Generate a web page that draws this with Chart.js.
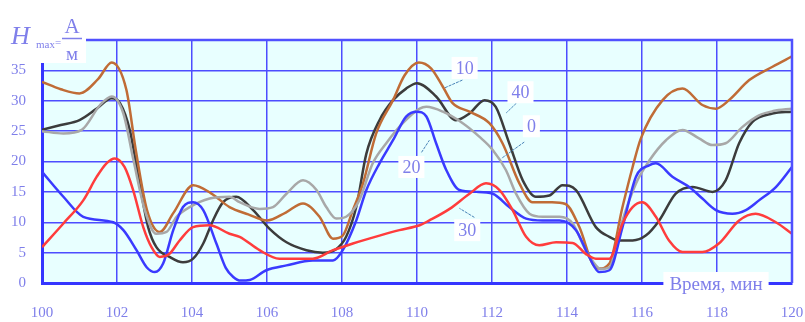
<!DOCTYPE html>
<html>
<head>
<meta charset="utf-8">
<script src="https://cdn.jsdelivr.net/npm/chart.js@4/dist/chart.umd.min.js"></script>
<style>html,body{margin:0;padding:0;background:#fff}</style>
</head>
<body>
<canvas id="chart" width="805" height="322"></canvas>
<script>
// time ticks (min) and H ticks (A/m)
var xTicks = [100, 102, 104, 106, 108, 110, 112, 114, 116, 118, 120];
var yTicks = [0, 5, 10, 15, 20, 25, 30, 35];

// series "0"
var t0 = [100, 100.57, 101.06, 101.55, 101.86, 102.17, 102.44, 102.74, 103.05, 103.32, 103.59, 103.94, 104.47, 105.0, 105.27, 105.8, 106.16, 106.52, 106.96, 107.32, 107.58, 107.85, 108.11, 108.46, 108.82, 109.18, 109.62, 110.07, 110.25, 110.69, 111.22, 111.66, 112.02, 112.37, 112.64, 113.0, 113.35, 113.8, 114.15, 114.5, 114.77, 114.9, 115.13, 115.48, 115.84, 116.2, 116.64, 117.08, 117.52, 117.88, 118.23, 118.68, 119.12, 119.5, 120];
var h0 = [25.0, 24.6, 25.2, 29.3, 30.7, 27.9, 20.2, 12, 8.1, 8.4, 10.9, 12.5, 13.9, 14.2, 13.3, 12.2, 12.5, 14.7, 16.9, 15.3, 12.5, 10.6, 10.9, 13.6, 19.7, 23, 26.3, 28.7, 29.0, 28.2, 26.3, 24.1, 21.9, 18.6, 14.7, 11.4, 10.9, 10.9, 9.8, 5.4, 2.9, 2.3, 2.6, 10.3, 16.4, 20.2, 23.5, 25.2, 23.8, 22.7, 23, 25.7, 27.6, 28.3, 28.7];

// series "10"
var t10 = [100, 100.5, 101, 101.5, 101.86, 102.25, 102.5, 102.8, 103.14, 103.5, 104.03, 104.5, 105, 105.5, 106, 106.5, 106.96, 107.4, 107.76, 108.02, 108.29, 108.56, 108.91, 109.36, 109.67, 110.05, 110.38, 110.69, 110.95, 111.4, 111.93, 112.28, 112.73, 113.08, 113.6, 113.96, 114.33, 114.68, 114.86, 115.13, 115.48, 115.75, 115.97, 116.55, 117.08, 117.61, 117.97, 118.32, 118.86, 119.48, 120];
var h10 = [33.1, 31.9, 31.2, 33.6, 36.3, 31.8, 21.9, 12, 8.4, 11.5, 16.1, 14.8, 12.5, 11.3, 10.3, 11.6, 13.1, 10.9, 7.3, 7.8, 12, 16.4, 24.6, 30.1, 34.2, 36.3, 35.3, 32.3, 29.6, 28.2, 26.3, 23, 16.4, 13.3, 13.3, 13, 9.2, 3.2, 2.4, 3.2, 12.5, 19.1, 23.8, 30.1, 32.0, 29.3, 28.7, 30.1, 33.4, 35.6, 37.3];

// series "20"
var t20 = [100, 100.57, 101.1, 101.9, 102.17, 102.52, 102.79, 103.01, 103.23, 103.5, 103.76, 104.03, 104.3, 104.65, 104.9, 105.1, 105.3, 105.54, 105.98, 106.52, 107.22, 107.76, 108.02, 108.38, 108.65, 109.0, 109.36, 109.71, 110.0, 110.25, 110.51, 110.78, 111.13, 111.58, 112.02, 112.46, 112.91, 113.35, 113.8, 114.24, 114.59, 114.86, 115.13, 115.48, 115.84, 116.2, 116.37, 116.81, 117.26, 117.61, 117.97, 118.41, 118.77, 119.12, 119.57, 120];
var h20 = [18.3, 14.2, 10.9, 10.0, 8.7, 5.4, 2.6, 1.8, 3.2, 8.7, 12.5, 13.3, 12, 6.5, 2.5, 1.0, 0.4, 0.5, 2.1, 2.9, 3.7, 3.7, 5.4, 10.3, 15.3, 19.7, 23.5, 27.4, 28.2, 27.4, 23, 18.6, 15.3, 15.0, 14.7, 12.5, 10.6, 10.3, 10.3, 8.7, 4.3, 1.8, 2.1, 9.2, 17.5, 19.4, 19.7, 17.5, 15.8, 13.9, 12, 11.4, 12, 13.6, 15.8, 19.1];

// series "30"
var t30 = [100, 100.57, 101.1, 101.46, 101.72, 101.94, 102.2, 102.43, 102.7, 102.92, 103.14, 103.4, 103.67, 104.03, 104.47, 105.0, 105.27, 105.8, 106.33, 107.22, 107.76, 108.29, 109.0, 109.53, 110.07, 110.33, 110.87, 111.4, 111.84, 112.2, 112.55, 112.91, 113.26, 113.71, 114.15, 114.5, 114.77, 115.13, 115.48, 115.75, 116.01, 116.37, 116.72, 117.08, 117.61, 118.05, 118.59, 119.03, 119.57, 120];
var h30 = [5.9, 9.8, 13.6, 17.5, 19.7, 20.5, 19.1, 15.3, 9.2, 5.9, 4.3, 4.8, 7.0, 9.2, 9.5, 8.1, 7.6, 5.4, 4.0, 4.0, 5.4, 6.5, 7.8, 8.7, 9.5, 10.3, 12.2, 14.7, 16.4, 15.3, 12, 7.6, 6.2, 6.7, 6.6, 4.8, 4.0, 4.0, 9.8, 12.5, 13.3, 10.9, 7.0, 5.1, 5.1, 6.5, 10.3, 11.4, 10.0, 8.1];

// series "40"
var t40 = [100, 100.5, 101, 101.46, 101.86, 102.08, 102.34, 102.6, 102.83, 103.05, 103.4, 103.76, 104.03, 104.3, 104.56, 104.83, 105.18, 105.63, 106.07, 106.52, 107.05, 107.49, 107.85, 108.11, 108.38, 108.65, 109.0, 109.36, 109.71, 110.0, 110.51, 111.04, 111.4, 111.8, 112.1, 112.46, 112.82, 113.17, 113.53, 113.88, 114.24, 114.77, 115.13, 115.39, 115.75, 116.1, 116.46, 116.9, 117.35, 117.88, 118.23, 118.59, 118.94, 119.48, 120];
var h40 = [25.2, 26.0, 26.8, 28.7, 30.4, 29.6, 25.2, 16.4, 9.2, 5.9, 4.3, 3.4, 4.0, 6.5, 10.3, 13.3, 14.2, 12, 8.9, 6.7, 5.4, 5.0, 5.6, 7.6, 12.5, 21.3, 26.8, 30.1, 32.0, 32.9, 30.7, 26.8, 27.9, 30.1, 29.0, 23, 16.9, 14.2, 14.4, 16.1, 15.3, 9.2, 7.6, 7.0, 7.0, 7.8, 10.3, 14.7, 15.8, 15.0, 16.9, 23, 26.5, 27.9, 28.2];

// curve labels: [text, label t, label h, leader from t/h, leader to t/h]
var curveLabels = [
  ['10', 111.27, 35.4, 111.21, 33.4, 110.73, 32.1],
  ['40', 112.76, 31.4, 112.65, 29.6, 112.38, 28.0],
  ['0', 113.05, 25.8, 112.86, 23.2, 112.25, 20.5],
  ['20', 109.85, 19.1, 110.12, 21.5, 110.33, 23.5],
  ['30', 111.34, 8.7, 111.53, 10.8, 111.13, 12.3]
];

var textColor = '#7f7fea';
var serif = '"Liberation Serif", "DejaVu Serif", serif';

function pts(t, h) {
  return t.map(function(x, i) { return {x: x, y: h[i]}; });
}

function line(label, t, h, color) {
  return {
    label: label,
    data: pts(t, h),
    borderColor: color,
    borderWidth: 2.5,
    pointRadius: 0,
    fill: false,
    cubicInterpolationMode: 'monotone'
  };
}

var bgPlugin = {
  id: 'bg',
  beforeDraw: function(c) {
    var a = c.chartArea, ctx = c.ctx;
    ctx.save();
    ctx.fillStyle = '#e8ffff';
    ctx.fillRect(a.left, a.top, a.right - a.left, a.bottom - a.top);
    ctx.restore();
  }
};

function whiteText(ctx, txt, cx, cy, font, padX, h) {
  ctx.font = font;
  var w = ctx.measureText(txt).width + padX * 2;
  ctx.fillStyle = '#fff';
  ctx.fillRect(cx - w / 2, cy - h / 2, w, h);
  ctx.fillStyle = textColor;
  ctx.textAlign = 'center';
  ctx.textBaseline = 'middle';
  ctx.fillText(txt, cx, cy + 1);
}

var overlayPlugin = {
  id: 'overlay',
  afterDraw: function(c) {
    var ctx = c.ctx, xs = c.scales.x, ys = c.scales.y, a = c.chartArea;
    ctx.save();

    // top and right frame
    ctx.strokeStyle = '#5050ff';
    ctx.lineWidth = 2.5;
    ctx.beginPath();
    ctx.moveTo(a.left, a.top);
    ctx.lineTo(a.right, a.top);
    ctx.lineTo(a.right, a.bottom);
    ctx.stroke();

    // leader lines + curve labels
    curveLabels.forEach(function(l) {
      ctx.strokeStyle = '#4a84b8';
      ctx.lineWidth = 1;
      ctx.setLineDash([3, 1]);
      ctx.beginPath();
      ctx.moveTo(xs.getPixelForValue(l[3]), ys.getPixelForValue(l[4]));
      ctx.lineTo(xs.getPixelForValue(l[5]), ys.getPixelForValue(l[6]));
      ctx.stroke();
      ctx.setLineDash([]);
      whiteText(ctx, l[0], xs.getPixelForValue(l[1]), ys.getPixelForValue(l[2]), '18px ' + serif, 4, 22);
    });

    // x axis name
    whiteText(ctx, 'Время, мин', a.right - 76, a.bottom + 1, '19px ' + serif, 6, 24);

    // y axis name
    ctx.fillStyle = '#fff';
    ctx.fillRect(0, 0, 86, a.top + 2);
    ctx.fillRect(a.left - 2, a.top - 1, 88 - a.left, 24);
    ctx.fillStyle = textColor;
    ctx.textAlign = 'left';
    ctx.textBaseline = 'alphabetic';
    ctx.font = 'italic 26px ' + serif;
    ctx.fillText('H', 11, 44);
    ctx.font = '11px ' + serif;
    ctx.fillText('max', 36, 48);
    ctx.fillText('=', 55, 46);
    ctx.textAlign = 'center';
    ctx.font = '21px ' + serif;
    ctx.fillText('А', 72, 33);
    ctx.font = '19px ' + serif;
    ctx.fillText('м', 72, 60);
    ctx.strokeStyle = textColor;
    ctx.lineWidth = 1.5;
    ctx.beginPath();
    ctx.moveTo(62, 38.5);
    ctx.lineTo(82, 38.5);
    ctx.stroke();

    ctx.restore();
  }
};

new Chart('chart', {
  type: 'line',
  data: {
    datasets: [
      line('30', t30, h30, '#ff3c3c'),
      line('20', t20, h20, '#3a3aff'),
      line('0', t0, h0, '#a8a8a8'),
      line('10', t10, h10, '#c06c36'),
      line('40', t40, h40, '#3c3c3c')
    ]
  },
  options: {
    responsive: false,
    animation: false,
    devicePixelRatio: 1,
    layout: {padding: {top: 40, right: 13, left: 0, bottom: 0}},
    plugins: {legend: {display: false}, tooltip: {enabled: false}},
    scales: {
      x: {
        type: 'linear',
        min: xTicks[0],
        max: xTicks[xTicks.length - 1],
        afterBuildTicks: function(s) { s.ticks = xTicks.map(function(v) { return {value: v}; }); },
        afterFit: function(s) { s.height = 39; s.paddingLeft = 0; s.paddingRight = 0; },
        ticks: {color: textColor, font: {family: serif, size: 15}, padding: 21, maxRotation: 0},
        grid: {color: '#4d4dff', lineWidth: 1.5, drawTicks: false},
        border: {color: '#3535ff', width: 3}
      },
      y: {
        min: 0,
        max: 40,
        ticks: {
          stepSize: 5, color: textColor, font: {family: serif, size: 15}, padding: 16,
          callback: function(v) { return yTicks.indexOf(v) >= 0 ? v : ''; }
        },
        afterFit: function(s) { s.width = 42; s.paddingTop = 0; s.paddingBottom = 0; },
        grid: {color: '#4d4dff', lineWidth: 1.5, drawTicks: false},
        border: {color: '#3535ff', width: 3}
      }
    }
  },
  plugins: [bgPlugin, overlayPlugin]
});
</script>
</body>
</html>
